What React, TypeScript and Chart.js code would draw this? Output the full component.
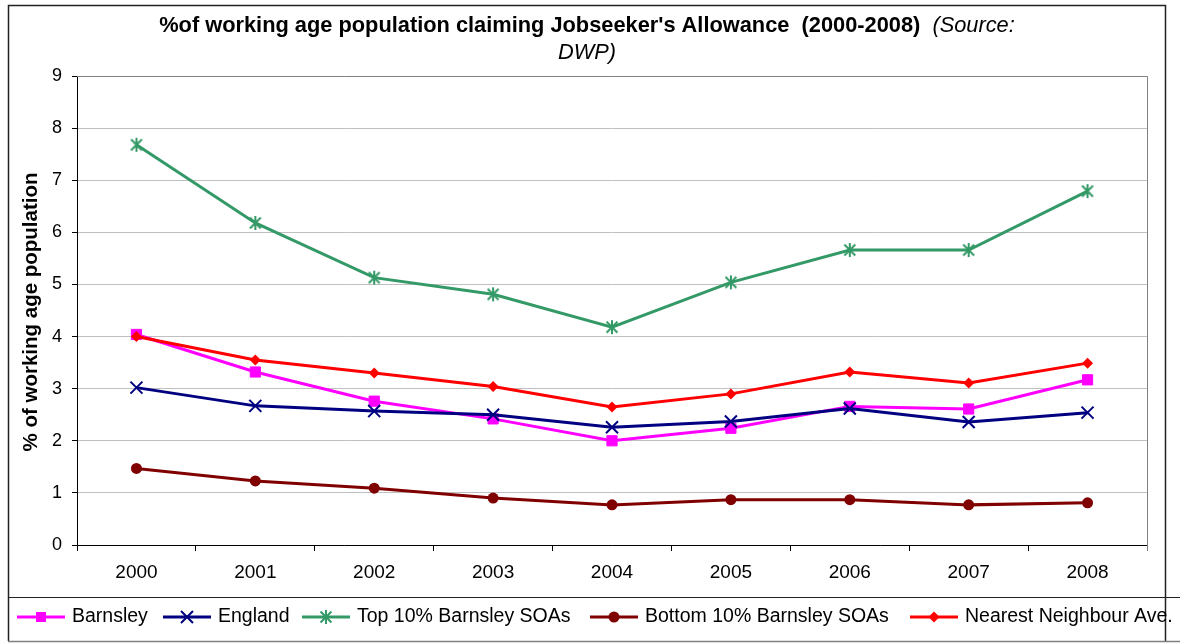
import React, { useEffect, useRef } from "react";
import { Chart, registerables } from "chart.js";

Chart.register(...registerables);

const years = ["2000", "2001", "2002", "2003", "2004", "2005", "2006", "2007", "2008"];
const barnsley = [4.04, 3.32, 2.76, 2.42, 2.0, 2.24, 2.66, 2.61, 3.17];
const england = [3.02, 2.67, 2.57, 2.5, 2.26, 2.37, 2.62, 2.36, 2.54];
const top10 = [7.68, 6.18, 5.13, 4.81, 4.18, 5.04, 5.66, 5.66, 6.79];
const bottom10 = [1.47, 1.23, 1.09, 0.9, 0.77, 0.87, 0.87, 0.77, 0.81];
const nearest = [4.0, 3.55, 3.3, 3.04, 2.65, 2.9, 3.32, 3.11, 3.49];
const yTickValues = [0, 1, 2, 3, 4, 5, 6, 7, 8, 9];

const titleBold = "%of working age population claiming Jobseeker's Allowance  (2000-2008)";
const titleItalic1 = "  (Source:";
const titleItalic2 = "DWP)";
const yTitle = "% of working age population";

const FONT = "'Liberation Sans', Arial, Helvetica, sans-serif";

const C_BARNSLEY = "#FF00FF";
const C_ENGLAND = "#000080";
const C_TOP = "#339966";
const C_BOTTOM = "#800000";
const C_NEAREST = "#FF0000";

// legend entry left edges (layout)
const LEGEND_X = [17, 163, 302, 590, 910];

function makeStar(color: string, size: number): HTMLCanvasElement {
  const c = document.createElement("canvas");
  c.width = size;
  c.height = size;
  const ctx = c.getContext("2d")!;
  ctx.strokeStyle = color;
  ctx.lineWidth = 2;
  const m = size / 2;
  const r = size / 2 - 1;
  const d = r * 0.78;
  ctx.beginPath();
  ctx.moveTo(m, m - r);
  ctx.lineTo(m, m + r);
  ctx.moveTo(m - d, m - d);
  ctx.lineTo(m + d, m + d);
  ctx.moveTo(m + d, m - d);
  ctx.lineTo(m - d, m + d);
  ctx.stroke();
  return c;
}

function drawMarker(ctx: CanvasRenderingContext2D, kind: string, x: number, y: number, color: string, star: HTMLCanvasElement) {
  ctx.save();
  ctx.fillStyle = color;
  ctx.strokeStyle = color;
  if (kind === "rect") {
    ctx.fillRect(x - 5, y - 5, 10, 10);
  } else if (kind === "crossRot") {
    ctx.lineWidth = 2;
    ctx.beginPath();
    ctx.moveTo(x - 6, y - 6);
    ctx.lineTo(x + 6, y + 6);
    ctx.moveTo(x + 6, y - 6);
    ctx.lineTo(x - 6, y + 6);
    ctx.stroke();
  } else if (kind === "star") {
    ctx.drawImage(star, x - star.width / 2, y - star.height / 2);
  } else if (kind === "circle") {
    ctx.beginPath();
    ctx.arc(x, y, 5.5, 0, Math.PI * 2);
    ctx.fill();
  } else if (kind === "rectRot") {
    ctx.beginPath();
    ctx.moveTo(x, y - 5.5);
    ctx.lineTo(x + 5.5, y);
    ctx.lineTo(x, y + 5.5);
    ctx.lineTo(x - 5.5, y);
    ctx.closePath();
    ctx.fill();
  }
  ctx.restore();
}

export default function App() {
  const ref = useRef<HTMLCanvasElement | null>(null);

  useEffect(() => {
    if (!ref.current) return;
    const star = makeStar(C_TOP, 16);
    const legendItems = [
      { label: "Barnsley", color: C_BARNSLEY, marker: "rect" },
      { label: "England", color: C_ENGLAND, marker: "crossRot" },
      { label: "Top 10% Barnsley SOAs", color: C_TOP, marker: "star" },
      { label: "Bottom 10% Barnsley SOAs", color: C_BOTTOM, marker: "circle" },
      { label: "Nearest Neighbour Ave.", color: C_NEAREST, marker: "rectRot" },
    ];

    const decor = {
      id: "decor",
      beforeDraw(chart: any) {
        const ctx = chart.ctx as CanvasRenderingContext2D;
        ctx.save();
        ctx.fillStyle = "#fff";
        ctx.fillRect(0, 0, chart.width, chart.height);
        ctx.restore();
      },
      beforeDatasetsDraw(chart: any) {
        const ctx = chart.ctx as CanvasRenderingContext2D;
        const a = chart.chartArea;
        ctx.save();
        ctx.strokeStyle = "#808080";
        ctx.lineWidth = 1;
        ctx.beginPath();
        ctx.moveTo(a.left, Math.round(a.top) + 0.5);
        ctx.lineTo(Math.round(a.right) + 0.5, Math.round(a.top) + 0.5);
        ctx.lineTo(Math.round(a.right) + 0.5, a.bottom + 6);
        ctx.stroke();
        ctx.restore();
      },
      afterDraw(chart: any) {
        const ctx = chart.ctx as CanvasRenderingContext2D;
        ctx.save();
        // outer frame
        ctx.strokeStyle = "#222";
        ctx.lineWidth = 1.5;
        ctx.beginPath();
        ctx.moveTo(8.5, 641);
        ctx.lineTo(8.5, 5.5);
        ctx.lineTo(1165.5, 5.5);
        ctx.lineTo(1165.5, 641);
        ctx.stroke();
        // legend box
        ctx.strokeStyle = "#222";
        ctx.lineWidth = 1.2;
        ctx.beginPath();
        ctx.moveTo(8, 597.5);
        ctx.lineTo(1180, 597.5);
        ctx.stroke();
        ctx.strokeStyle = "#808080";
        ctx.lineWidth = 1.5;
        ctx.beginPath();
        ctx.moveTo(8, 641.5);
        ctx.lineTo(1180, 641.5);
        ctx.stroke();

        // title
        ctx.fillStyle = "#000";
        ctx.textBaseline = "alphabetic";
        ctx.textAlign = "left";
        const fb = `bold 21.8px ${FONT}`;
        const fi = `italic 21.8px ${FONT}`;
        ctx.font = fb;
        const wb = ctx.measureText(titleBold).width;
        ctx.font = fi;
        const wi = ctx.measureText(titleItalic1).width;
        const cx = 587;
        const x0 = cx - (wb + wi) / 2;
        ctx.font = fb;
        ctx.fillText(titleBold, x0, 32);
        ctx.font = fi;
        ctx.fillText(titleItalic1, x0 + wb, 32);
        ctx.textAlign = "center";
        ctx.fillText(titleItalic2, cx, 59);

        // y title
        const a = chart.chartArea;
        ctx.save();
        ctx.translate(31, 312);
        ctx.rotate(-Math.PI / 2);
        ctx.font = `bold 20.5px ${FONT}`;
        ctx.textAlign = "center";
        ctx.textBaseline = "middle";
        ctx.fillText(yTitle, 0, 0);
        ctx.restore();

        // legend
        ctx.font = `19.5px ${FONT}`;
        ctx.textAlign = "left";
        ctx.textBaseline = "middle";
        const ly = 617;
        legendItems.forEach((it, i) => {
          const x = LEGEND_X[i];
          ctx.strokeStyle = it.color;
          ctx.lineWidth = 3;
          ctx.beginPath();
          ctx.moveTo(x, ly);
          ctx.lineTo(x + 48, ly);
          ctx.stroke();
          drawMarker(ctx, it.marker, x + 24, ly, it.color, star);
          ctx.fillStyle = "#000";
          ctx.fillText(it.label, x + 55, ly);
        });
        ctx.restore();
      },
    };

    const chart = new Chart(ref.current, {
      type: "line",
      data: {
        labels: years,
        datasets: [
          {
            label: "Barnsley",
            data: barnsley,
            borderColor: C_BARNSLEY,
            backgroundColor: C_BARNSLEY,
            borderWidth: 3,
            pointStyle: "rect",
            pointRadius: 7.2,
            pointBorderWidth: 1,
            pointBackgroundColor: C_BARNSLEY,
            pointBorderColor: C_BARNSLEY,
            tension: 0,
            order: 4,
          },
          {
            label: "England",
            data: england,
            borderColor: C_ENGLAND,
            backgroundColor: C_ENGLAND,
            borderWidth: 3,
            pointStyle: "crossRot",
            pointRadius: 8.5,
            pointBorderWidth: 2,
            pointBorderColor: C_ENGLAND,
            tension: 0,
            order: 3,
          },
          {
            label: "Top 10% Barnsley SOAs",
            data: top10,
            borderColor: C_TOP,
            backgroundColor: C_TOP,
            borderWidth: 3,
            pointStyle: star as any,
            pointRadius: 8,
            tension: 0,
            order: 2,
          },
          {
            label: "Bottom 10% Barnsley SOAs",
            data: bottom10,
            borderColor: C_BOTTOM,
            backgroundColor: C_BOTTOM,
            borderWidth: 3,
            pointStyle: "circle",
            pointRadius: 5.5,
            pointBorderWidth: 0,
            pointBackgroundColor: C_BOTTOM,
            tension: 0,
            order: 1,
          },
          {
            label: "Nearest Neighbour Ave.",
            data: nearest,
            borderColor: C_NEAREST,
            backgroundColor: C_NEAREST,
            borderWidth: 3,
            pointStyle: "rectRot",
            pointRadius: 5.5,
            pointBorderWidth: 0,
            pointBackgroundColor: C_NEAREST,
            tension: 0,
            order: 0,
          },
        ],
      },
      options: {
        responsive: false,
        animation: false,
        events: [],
        layout: { padding: { top: 76, right: 33, left: 0, bottom: 0 } },
        plugins: {
          legend: { display: false },
          title: { display: false },
          tooltip: { enabled: false },
        },
        scales: {
          x: {
            type: "category",
            offset: true,
            grid: {
              display: true,
              drawOnChartArea: false,
              drawTicks: true,
              tickLength: 6,
              tickColor: "#000",
              offset: true,
            },
            border: { display: true, color: "#000", width: 1 },
            ticks: {
              color: "#000",
              font: { size: 19, family: FONT },
              padding: 10,
              maxRotation: 0,
              autoSkip: false,
            },
            afterFit: (s: any) => {
              s.height = 99;
            },
          },
          y: {
            min: 0,
            max: 9,
            afterBuildTicks: (s: any) => {
              s.ticks = yTickValues.map((v) => ({ value: v }));
            },
            grid: { color: "#c0c0c0", lineWidth: 1, tickColor: "#000", tickLength: 5 },
            border: { display: true, color: "#000", width: 1 },
            ticks: {
              color: "#000",
              font: { size: 18, family: FONT },
              padding: 10,
            },
            afterFit: (s: any) => {
              s.width = 77;
            },
          },
        },
      },
      plugins: [decor],
    });

    return () => {
      chart.destroy();
    };
  }, []);

  return (
    <div style={{ position: "fixed", left: 0, top: 0, width: 1180, height: 644, background: "#fff" }}>
      <canvas ref={ref} width={1180} height={644} style={{ display: "block", width: 1180, height: 644 }} />
    </div>
  );
}
